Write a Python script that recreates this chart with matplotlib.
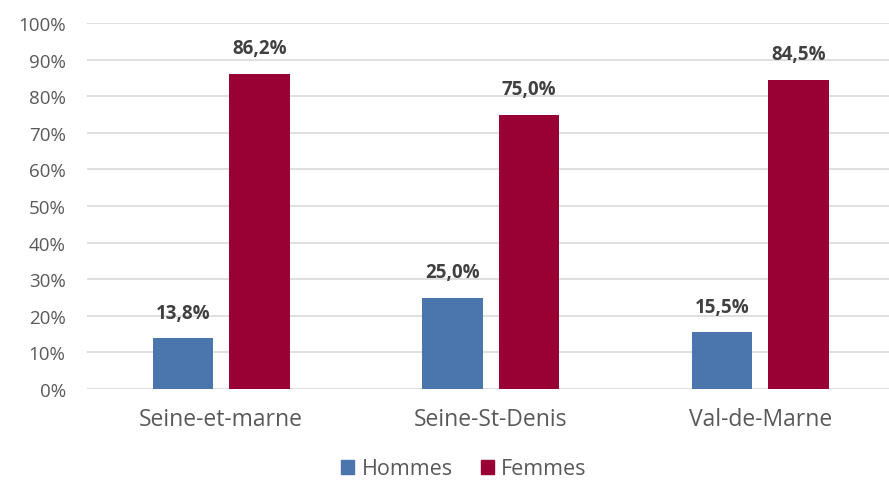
import matplotlib
matplotlib.use("Agg")
import matplotlib.pyplot as plt
import numpy as np
from matplotlib.patches import Patch

categories = ["Seine-et-marne", "Seine-St-Denis", "Val-de-Marne"]
hommes = [13.8, 25.0, 15.5]
femmes = [86.2, 75.0, 84.5]
series_names = ["Hommes", "Femmes"]
colors = ["#4A75AD", "#990033"]

plt.rcParams['font.family'] = ['Open Sans', 'DejaVu Sans']

fig = plt.figure(figsize=(8.89, 4.81), dpi=100)
ax = fig.add_axes([86.5/889, 1-390/481, 808.5/889, 366/481])

x = np.arange(len(categories))
w = 0.223
off = 0.142
b1 = ax.bar(x - off, hommes, w, color=colors[0], zorder=3)
b2 = ax.bar(x + off, femmes, w, color=colors[1], zorder=3)

for bars, vals in ((b1, hommes), (b2, femmes)):
    for b, v in zip(bars, vals):
        ax.text(b.get_x() + b.get_width()/2, v + 4.3, f"{v:.1f}%".replace(".", ","),
                ha="center", va="bottom", fontsize=13.5, fontweight="bold", color="#404040")

ax.set_xlim(-0.5, 2.5)
ax.set_ylim(0, 100)
ax.set_yticks(np.arange(0, 101, 10))
ax.set_yticklabels([f"{v}%" for v in range(0, 101, 10)])
ax.set_xticks(x)
ax.set_xticklabels(categories)
ax.tick_params(axis='y', length=0, labelsize=13.5, labelcolor="#595959", pad=15)
ax.tick_params(axis='x', length=0, labelsize=16.5, labelcolor="#595959", pad=13)
ax.grid(axis='y', color="#D9D9D9", linewidth=1.2, zorder=0)
for s in ax.spines.values():
    s.set_visible(False)

handles = [Patch(color=c) for c in colors]
fig.legend(handles, series_names, loc="center", bbox_to_anchor=(464/889, 1-470/481),
           ncol=2, frameon=False, fontsize=15.5, handlelength=0.6, handleheight=0.6,
           handletextpad=0.35, columnspacing=1.3, labelcolor="#595959")

fig.savefig("out.png", dpi=100)
